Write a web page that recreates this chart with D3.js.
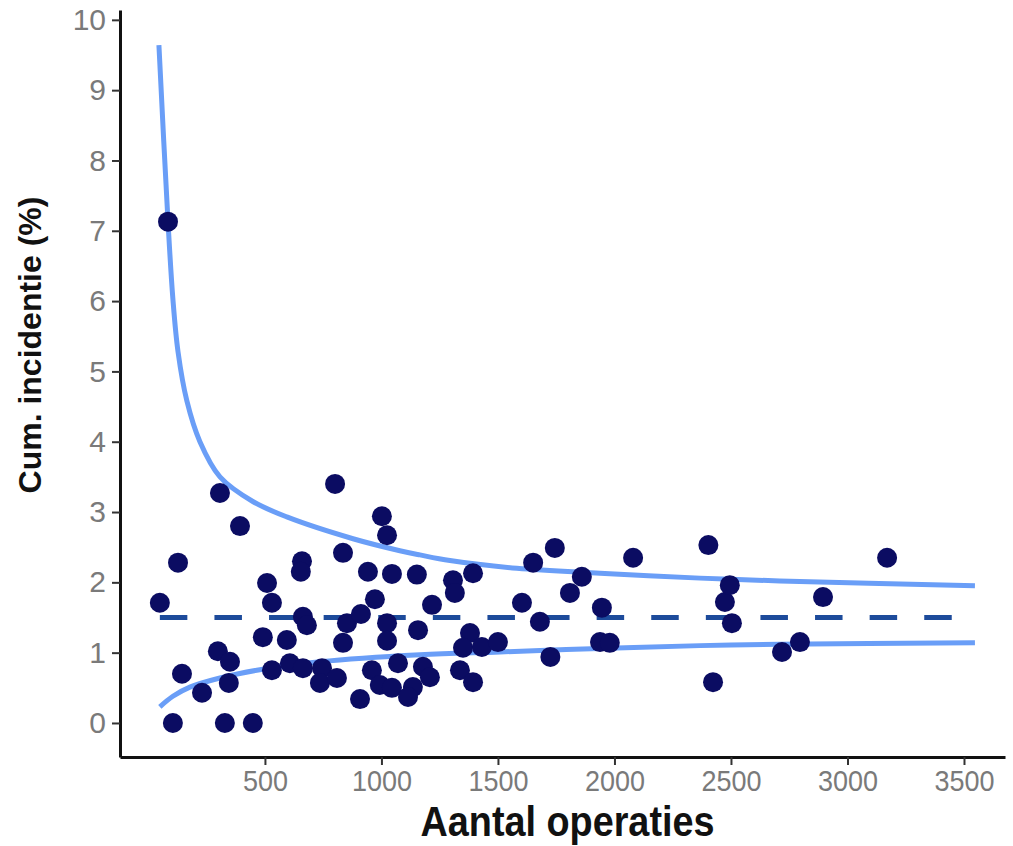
<!DOCTYPE html>
<html lang="en">
<head>
    <meta charset="UTF-8">
    <title>Cum. incidentie</title>
    <script src="https://cdnjs.cloudflare.com/ajax/libs/d3/7.8.2/d3.min.js"></script>
    <style>
        body { margin: 0; background: #fff; }
        svg { display: block; font-family: "Liberation Sans", Arial, sans-serif; }
    </style>
</head>
<body>
    <div id="chart"></div>

    <script>
        // aantal operaties per ziekenhuis en cumulatieve incidentie (%)
        const operaties = [49, 84, 127, 144, 105, 230, 307, 298, 350, 345, 328, 393, 448, 509, 530, 491, 594, 530, 607, 659,
            654, 663, 680, 663, 745, 736, 809, 801, 835, 835, 852, 912, 972, 942, 1002, 1024, 1045, 1024, 1024, 908,
            959, 993, 1045, 1071, 1135, 1114, 1152, 1157, 1178, 1208, 1217, 1307, 1393, 1315, 1380, 1350, 1431, 1500, 1337, 1393,
            1603, 1651, 1680, 1744, 1725, 1809, 1860, 1946, 1938, 1980, 2080, 2403, 2423, 2474, 2495, 2504, 2719, 2796, 2895, 3170];
        const incidentie = [1.71, 7.13, 2.28, 0.70, 0, 0.43, 3.27, 1.02, 0.87, 0.57, 0, 2.80, 0, 1.99, 1.71, 1.22, 1.18, 0.75, 0.85, 2.30,
            2.15, 1.51, 1.39, 0.78, 0.78, 0.57, 0.64, 3.40, 2.42, 1.14, 1.42, 1.55, 1.76, 2.15, 2.94, 2.67, 2.12, 1.42, 1.17, 0.34,
            0.75, 0.54, 0.50, 0.85, 0.51, 0.37, 2.11, 1.32, 0.80, 0.65, 1.68, 2.03, 2.13, 1.85, 1.28, 1.07, 1.08, 1.15, 0.75, 0.58,
            1.71, 2.28, 1.44, 2.49, 0.94, 1.85, 2.08, 1.64, 1.15, 1.14, 2.35, 2.53, 0.58, 1.72, 1.96, 1.42, 1.01, 1.15, 1.79, 2.35];

        // funnel grenzen
        const bovenN = [45, 84, 105, 127, 165, 221, 307, 448, 594, 878, 1079, 1165, 1294, 1581, 1938, 2367, 2710, 3547];
        const bovenPct = [9.64, 7.13, 6.03, 5.28, 4.58, 4.00, 3.50, 3.15, 2.93, 2.62, 2.45, 2.39, 2.31, 2.20, 2.13, 2.06, 2.02, 1.95];
        const onderN = [49, 105, 178, 307, 465, 736, 1165, 1509, 1938, 2367, 2710, 3547];
        const onderPct = [0.23, 0.38, 0.51, 0.64, 0.75, 0.87, 0.97, 1.01, 1.06, 1.10, 1.12, 1.14];
        const gemiddelde = 1.5;
        const gemiddeldeN = [49, 3547];

        const xTicks = [500, 1000, 1500, 2000, 2500, 3000, 3500];
        const yTicks = [0, 1, 2, 3, 4, 5, 6, 7, 8, 9, 10];

        const width = 1013;
        const height = 846;
        const plot = { left: 120, right: 1005, top: 10, bottom: 757 };

        const svg = d3.select("#chart")
            .append("svg")
            .attr("width", width)
            .attr("height", height);

        const x = d3.scaleLinear()
            .domain([-122, 3676])
            .range([plot.left, plot.right]);

        const y = d3.scaleLinear()
            .domain([-0.484, 10.14])
            .range([plot.bottom, plot.top]);

        const line = d3.line()
            .x(d => x(d[0]))
            .y(d => y(d[1]))
            .curve(d3.curveCatmullRom.alpha(0.5));

        // grenzen
        svg.append("path")
            .datum(d3.zip(bovenN, bovenPct))
            .attr("d", line)
            .attr("fill", "none")
            .attr("stroke", "#6a9ef7")
            .attr("stroke-width", 5);

        svg.append("path")
            .datum(d3.zip(onderN, onderPct))
            .attr("d", line)
            .attr("fill", "none")
            .attr("stroke", "#6a9ef7")
            .attr("stroke-width", 5);

        svg.append("path")
            .datum(gemiddeldeN.map(n => [n, gemiddelde]))
            .attr("d", d3.line().x(d => x(d[0])).y(d => y(d[1])))
            .attr("fill", "none")
            .attr("stroke", "#1d4b9b")
            .attr("stroke-width", 5)
            .attr("stroke-dasharray", "27.5 27.1");

        // punten
        svg.append("g")
            .selectAll("circle")
            .data(d3.zip(operaties, incidentie))
            .enter().append("circle")
            .attr("cx", d => x(d[0]))
            .attr("cy", d => y(d[1]))
            .attr("r", 10)
            .attr("fill", "#0b0c62");

        // assen
        const xAxis = svg.append("g")
            .attr("transform", `translate(0,${plot.bottom})`)
            .call(d3.axisBottom(x).tickValues(xTicks).tickFormat(d3.format("d"))
                .tickSize(8).tickSizeOuter(0).tickPadding(6));

        const yAxis = svg.append("g")
            .attr("transform", `translate(${plot.left},0)`)
            .call(d3.axisLeft(y).tickValues(yTicks).tickFormat(d3.format("d"))
                .tickSize(8).tickSizeOuter(0).tickPadding(6));

        [xAxis, yAxis].forEach(a => {
            a.select(".domain").attr("stroke", "#111").attr("stroke-width", 3);
            a.selectAll(".tick line").attr("stroke", "#333").attr("stroke-width", 2);
            a.selectAll(".tick text").attr("fill", "#7a7a7a").style("font-family", "Liberation Sans, Arial, sans-serif");
        });

        yAxis.selectAll(".tick text").style("font-size", "30px");

        xAxis.selectAll(".tick text")
            .style("font-size", "30px")
            .attr("dy", null)
            .attr("y", 0)
            .attr("transform", "translate(0,34) scale(0.9,1)");

        // titels
        svg.append("text")
            .attr("transform", `translate(${(plot.left + plot.right) / 2 + 5},836) scale(0.9,1)`)
            .attr("text-anchor", "middle")
            .style("font-size", "42px")
            .style("font-weight", "bold")
            .attr("fill", "#111")
            .text("Aantal operaties");

        svg.append("text")
            .attr("transform", "translate(41,345) rotate(-90)")
            .attr("text-anchor", "middle")
            .style("font-size", "32px")
            .style("font-weight", "bold")
            .attr("fill", "#111")
            .text("Cum. incidentie (%)");
    </script>
</body>
</html>
